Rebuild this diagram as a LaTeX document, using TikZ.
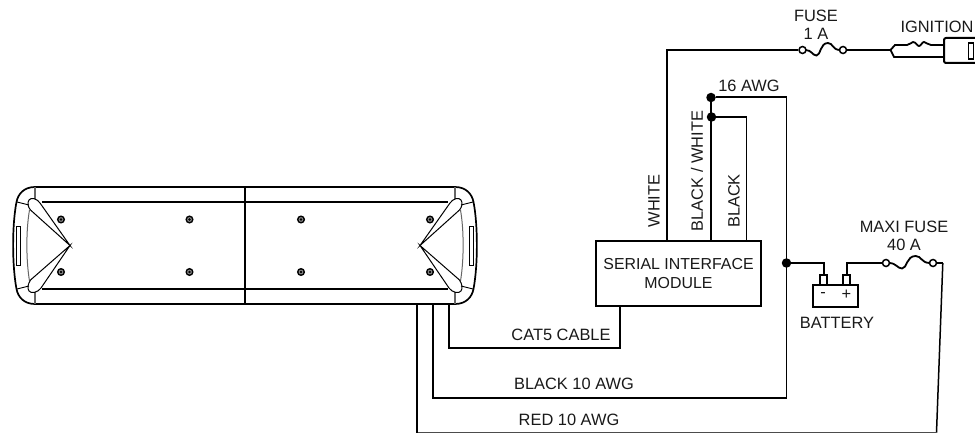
\documentclass[tikz,border=0pt]{standalone}
\usepackage{fontspec}
\setmainfont{Liberation Sans}
\tikzset{
  wire/.style={line width=2pt,line join=miter},
  thinwire/.style={line width=1.5pt},
  greyline/.style={line width=1.3pt,black!60},
  lbl/.style={inner sep=0pt,align=center,font=\fontsize{16.4}{17.6}\selectfont,text=black!90},
  dot/.style={circle,fill=black,inner sep=0pt,minimum size=9.5pt},
  ring/.style={circle,draw,line width=1.5pt,fill=white,inner sep=0pt,minimum size=7pt},
  boxn/.style={draw,line width=2pt,inner sep=0pt,fill=white},
  post/.style={draw,line width=1.7pt,inner sep=0pt,minimum width=7pt,minimum height=10pt,fill=white},
}
\newcommand{\fusecurve}[3]{% left x, right x, y
  \draw[line width=1.8pt] (#1,#3) .. controls ({#1+0.18*(#2-#1)},#3) and ({#1+0.2*(#2-#1)},{#3+5.5}) .. ({#1+0.32*(#2-#1)},{#3+5.5})
   .. controls ({#1+0.44*(#2-#1)},{#3+5.5}) and ({#1+0.42*(#2-#1)},{#3-7}) .. ({#1+0.65*(#2-#1)},{#3-7})
   .. controls ({#1+0.8*(#2-#1)},{#3-7}) and ({#1+0.78*(#2-#1)},#3) .. (#2,#3);}
\newcommand{\barend}{%
  \draw[line width=1.7pt] (35,187) .. controls (24,187) and (18,194) .. (16.5,202) .. controls (12,225) and (12,265) .. (16.5,289) .. controls (18,297) and (24,304) .. (35,304);
  \draw[greyline] (35,187) -- (35,199) (35,292) -- (35,304);
  \draw[greyline,line width=1pt] (29.5,210) .. controls (26,230) and (26,260) .. (29.5,281);
  \draw[line width=0.9pt] (17,202) -- (29,205);
  \draw[line width=0.9pt] (17,289) -- (29,286);
  \draw[line width=1pt] (70,245.5) -- (40,203) .. controls (37,198.5) and (31,197) .. (29,200) .. controls (27,203) and (28,207) .. (30.5,210) -- cycle;
  \draw[line width=1pt] (70,245.5) -- (41,288) .. controls (38,292.5) and (31,294) .. (29,291) .. controls (27,288) and (28,284) .. (30.5,280) -- cycle;
  \draw[line width=0.8pt] (16.5,226) rectangle (20.5,265);
}
\begin{document}
\begin{tikzpicture}[x=1pt,y=-1pt]
\useasboundingbox (0,0) rectangle (975,433);
\clip (0,0) rectangle (975,433);

% light bar
\draw[line width=1.7pt] (35,187) -- (455,187) (35,304) -- (455,304);
\draw[line width=1.2pt] (42,202) -- (448,202) (42,289) -- (448,289);
\draw[line width=2.2pt] (245,187) -- (245,304);
\barend
\begin{scope}[xshift=490pt,x=-1pt]
\barend
\end{scope}
\foreach \p in {(61,219.5),(61,272),(189.5,219.5),(189.5,272),(301,219.5),(301,272),(430,219.5),(430,272)}{
  \draw[line width=1.4pt,fill=black!45] \p circle (3.3pt);
  \fill \p circle (1.3pt);
}

% module
\node[boxn,minimum width=164.5pt,minimum height=64.5pt] (sim) at (678.5,273.5) {};
\node[lbl,font=\fontsize{15.9}{19}\selectfont] (simt) at (678.5,273.5) {SERIAL INTERFACE\\MODULE};

% battery
\node[boxn,minimum width=45pt,minimum height=22pt] (bat) at (835.5,296) {};
\node[post] (pneg) at (823.5,280) {};
\node[post] (ppos) at (846.5,280) {};
\node[lbl] (minus) at (823,295) {-};
\node[lbl] (plus) at (846.5,294.5) {+};

% anchors and junctions
\node[dot] (j1) at (711,97.5) {};
\node[dot] (j2) at (711.5,117) {};
\node[dot] (j3) at (786.5,263) {};
\coordinate (barA) at (416.5,304);
\coordinate (barB) at (433,304);
\coordinate (barC) at (449,304);
\coordinate (cW) at (666.5,241);
\coordinate (cBW) at (711,241);
\coordinate (cB) at (746.5,241);
\coordinate (cC) at (619.5,306);

% fuses
\node[ring] (f1a) at (802.5,50) {};
\node[ring] (f1b) at (843,50) {};
\node[ring] (f2a) at (886,263) {};
\node[ring] (f2b) at (933,263) {};
\fusecurve{805.5}{840}{50}
\fusecurve{889}{930}{263}

% wires
\draw[wire] (cW) -- (666.5,50) -- (f1a);
\draw[wire] (f1b) -- (890,50);
\draw[thinwire] (cBW) -- (j1);
\draw[wire] (j1) -- (786.5,97.5);
\draw[thinwire] (786.5,97.5) -- (786.5,398);
\draw[wire] (786.5,398) -- (433,398) -- (barB);
\draw[wire] (j2) -- (746.5,117);
\draw[thinwire] (746.5,117) -- (cB);
\draw[wire] (barC) -- (449,348) -- (619.5,348) -- (cC);
\draw[wire] (j3) -- (823.5,263) -- (pneg);
\draw[wire] (ppos) -- (846.5,263) -- (f2a);
\draw[wire] (f2b) -- (942.8,263);
\draw[thinwire] (942.8,263) -- (936.5,432.6);
\draw[thinwire,black!70] (936.5,432.6) -- (416.5,432.6);
\draw[wire] (416.5,433) -- (barA);

% ignition plug
\draw[line width=1.8pt] (944,45) -- (931,45) .. controls (928,45) and (926,42) .. (924,42) .. controls (922,42) and (921,46) .. (919,46) .. controls (917,46) and (916,42) .. (913,42) .. controls (911,42) and (910,45) .. (907,45) -- (895,45) -- (890.5,50) -- (894,57) -- (944,57);
\draw[wire,rounded corners=2pt] (976,38) -- (944,38) -- (944,63) -- (976,63);
\node[draw,line width=1.5pt,inner sep=0pt,minimum width=5pt,minimum height=16pt] (slot) at (971,51) {};

% labels
\node[lbl] (tf1) at (816,24.5) {FUSE\\1 A};
\node[lbl] (tign) at (937,26.5) {IGNITION};
\node[lbl] (t16) at (749,86) {16 AWG};
\node[lbl,rotate=90] (twh) at (654,201) {WHITE};
\node[lbl,rotate=90] (tbw) at (697,171) {BLACK / WHITE};
\node[lbl,rotate=90] (tbk) at (734,201) {BLACK};
\node[lbl] (tmf) at (904,236) {MAXI FUSE\\40 A};
\node[lbl] (tbat) at (837,323) {BATTERY};
\node[lbl] (tcat) at (561,335) {CAT5 CABLE};
\node[lbl] (tbl) at (574,384) {BLACK 10 AWG};
\node[lbl] (trd) at (569,420) {RED 10 AWG};
\end{tikzpicture}
\end{document}
